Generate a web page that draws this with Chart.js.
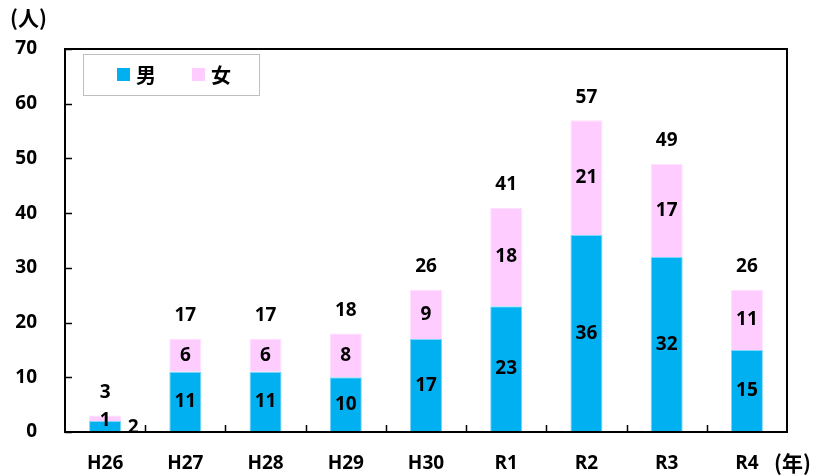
<!DOCTYPE html>
<html>
<head>
<meta charset="utf-8">
<script src="https://cdn.jsdelivr.net/npm/chart.js@4/dist/chart.umd.min.js"></script>
<style>
  html, body { margin: 0; padding: 0; background: #fff; }
  #wrap { width: 816px; height: 476px; }
</style>
</head>
<body>
<div id="wrap"><canvas id="genderChart" width="816" height="476"></canvas></div>
<script>
// data
const years = ['H26', 'H27', 'H28', 'H29', 'H30', 'R1', 'R2', 'R3', 'R4'];
const male = [2, 11, 11, 10, 17, 23, 36, 32, 15];
const female = [1, 6, 6, 8, 9, 18, 21, 17, 11];
const totals = [3, 17, 17, 18, 26, 41, 57, 49, 26];
const yTicks = [0, 10, 20, 30, 40, 50, 60, 70];

const fam = '"Open Sans", "Noto Sans", sans-serif';
const numFont = 'bold 19px ' + fam;
const jpFont = 'bold 20px "Noto Sans CJK JP", sans-serif';
const capFont = 'bold 21px "Noto Sans CJK JP", sans-serif';

// labels, frame, legend, unit captions
const decorPlugin = {
  id: 'decor',
  afterDatasetsDraw(chart) {
    const ctx = chart.ctx;
    const area = chart.chartArea;
    const x = chart.scales.x, y = chart.scales.y;

    ctx.save();
    // frame
    ctx.strokeStyle = '#000';
    ctx.lineWidth = 2;
    ctx.strokeRect(area.left, area.top, area.right - area.left, area.bottom - area.top);

    // y ticks (inward)
    ctx.lineWidth = 1.5;
    yTicks.forEach(v => {
      const py = Math.round(y.getPixelForValue(v)) + 0.5;
      ctx.beginPath();
      ctx.moveTo(area.left, py);
      ctx.lineTo(area.left + 7, py);
      ctx.stroke();
    });
    // x ticks at category boundaries (inward)
    for (let i = 1; i < years.length; i++) {
      const px = Math.round((x.getPixelForValue(i - 1) + x.getPixelForValue(i)) / 2) + 0.5;
      ctx.beginPath();
      ctx.moveTo(px, area.bottom);
      ctx.lineTo(px, area.bottom - 7);
      ctx.stroke();
    }

    // value labels
    ctx.fillStyle = '#000';
    ctx.font = numFont;
    ctx.textAlign = 'center';
    ctx.textBaseline = 'middle';
    const mMeta = chart.getDatasetMeta(0);
    const fMeta = chart.getDatasetMeta(1);
    years.forEach((yr, i) => {
      const mb = mMeta.data[i], fb = fMeta.data[i];
      if (i === 0) {
        // tiny first bar: labels moved aside as in the reference
        ctx.fillText(String(female[i]), fb.x, mb.y);
        ctx.fillText(String(male[i]), mb.x + 28, (mb.y + mb.base) / 2 + 1);
      } else {
        ctx.fillText(String(male[i]), mb.x, (mb.y + mb.base) / 2);
        ctx.fillText(String(female[i]), fb.x, (fb.y + fb.base) / 2);
      }
      ctx.fillText(String(totals[i]), fb.x, fb.y - 23);
    });

    // legend
    ctx.strokeStyle = '#bfbfbf';
    ctx.lineWidth = 1;
    ctx.strokeRect(83.5, 54.5, 176, 41);
    ctx.fillStyle = '#00b0f0';
    ctx.fillRect(117, 68, 13, 13);
    ctx.fillStyle = '#ffccff';
    ctx.fillRect(192, 68, 13, 13);
    ctx.fillStyle = '#000';
    ctx.font = jpFont;
    ctx.textAlign = 'left';
    ctx.fillText('男', 136, 75);
    ctx.fillText('女', 211, 75);

    // unit captions
    ctx.font = capFont;
    ctx.fillText('(人)', 10, 18);
    ctx.fillText('(年)', 774, 463);
    ctx.restore();
  }
};

const ctx = document.getElementById('genderChart').getContext('2d');
new Chart(ctx, {
  type: 'bar',
  data: {
    labels: years,
    datasets: [
      { label: '男', data: male, backgroundColor: '#00b0f0', borderColor: '#7fd6f6', borderWidth: 1,
        barPercentage: 0.4, categoryPercentage: 1 },
      { label: '女', data: female, backgroundColor: '#ffccff', borderColor: '#ffe0ff', borderWidth: 1,
        barPercentage: 0.4, categoryPercentage: 1 }
    ]
  },
  options: {
    responsive: false,
    animation: false,
    layout: { padding: { left: 0, top: 49, right: 29, bottom: 0 } },
    plugins: { legend: { display: false }, tooltip: { enabled: false } },
    scales: {
      x: {
        stacked: true,
        grid: { display: false },
        border: { display: false },
        ticks: { color: '#000', font: { family: fam, size: 19, weight: 'bold' }, padding: 12 },
        afterFit(s) { s.height = 44; }
      },
      y: {
        stacked: true,
        min: 0, max: 70,
        grid: { display: false },
        border: { display: false },
        ticks: { stepSize: 10, color: '#000', font: { family: fam, size: 19, weight: 'bold' }, padding: 20 },
        afterFit(s) { s.width = 65; }
      }
    }
  },
  plugins: [decorPlugin]
});
</script>
</body>
</html>
